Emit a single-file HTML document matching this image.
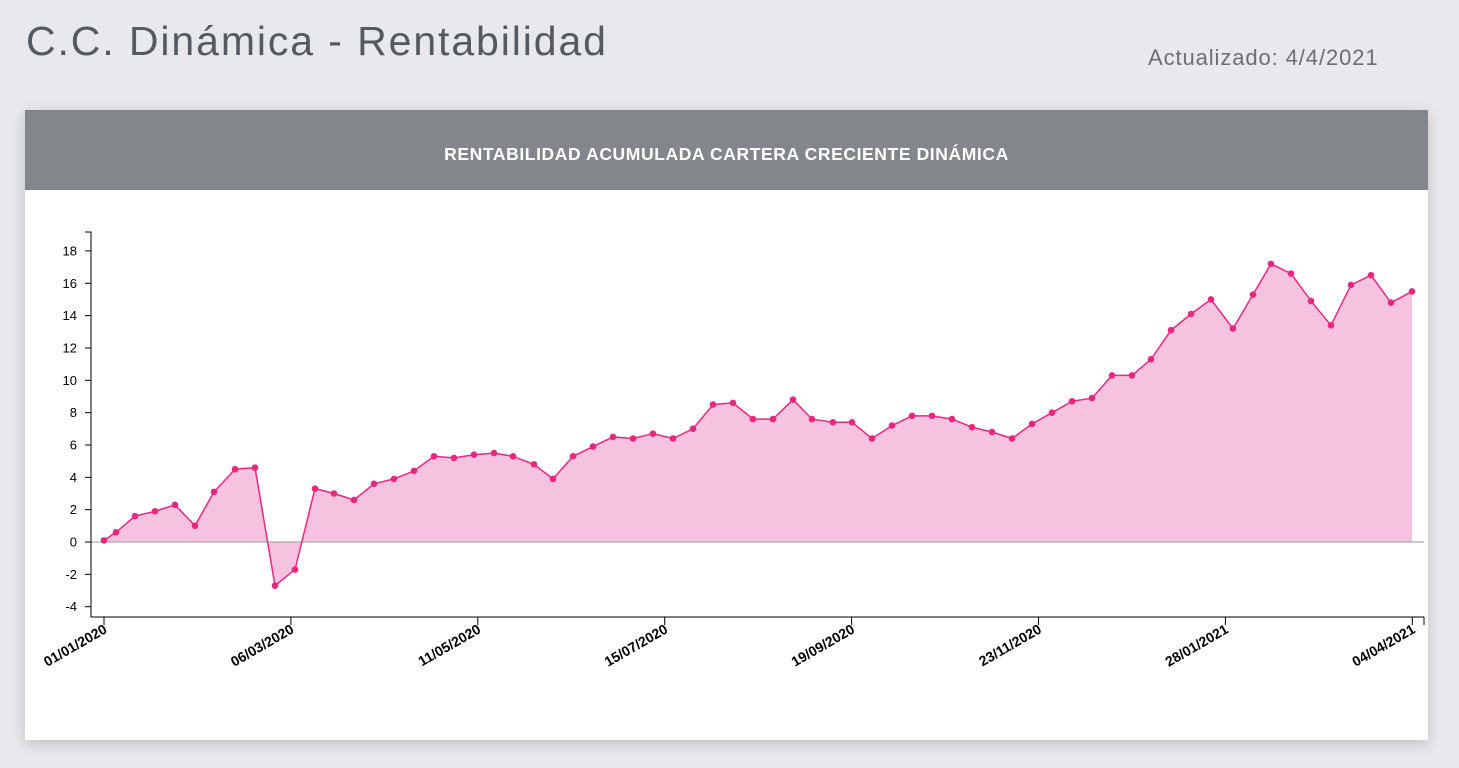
<!DOCTYPE html>
<html><head><meta charset="utf-8"><style>
body{margin:0;width:1459px;height:768px;background:#e8e9ec;font-family:"Liberation Sans",sans-serif;overflow:hidden;position:relative}
.t{position:absolute;left:26px;top:18px;font-size:41px;color:#555a60;letter-spacing:1.9px}
.u{position:absolute;left:1148px;top:45px;font-size:22px;color:#6b6e73;letter-spacing:0.9px}
.card{position:absolute;left:25px;top:110px;width:1403px;height:630px;background:#fff;box-shadow:0 4px 14px rgba(0,0,0,.18)}
.hd{height:80px;background:#83868b;color:#fff;font-weight:bold;font-size:17.5px;letter-spacing:0.6px;text-align:center;line-height:88px}
svg{position:absolute;left:0;top:0}
</style></head><body>
<div class="t">C.C. Dinámica - Rentabilidad</div>
<div class="u">Actualizado: 4/4/2021</div>
<div class="card"><div class="hd">RENTABILIDAD ACUMULADA CARTERA CRECIENTE DINÁMICA</div></div>
<svg id="s" width="1459" height="768" font-family="Liberation Sans, sans-serif" font-size="13"></svg>
<script>
var d=[[104,0.1],[116,0.6],[135,1.6],[155,1.9],[175,2.3],[195,1.0],[214,3.1],[235,4.5],[255,4.6],[275,-2.7],[295,-1.7],[315,3.3],[334,3.0],[354,2.6],[374,3.6],[394,3.9],[414,4.4],[434,5.3],[454,5.2],[474,5.4],[494,5.5],[513,5.3],[534,4.8],[553,3.9],[573,5.3],[593,5.9],[613,6.5],[633,6.4],[653,6.7],[673,6.4],[693,7.0],[713,8.5],[733,8.6],[753,7.6],[773,7.6],[793,8.8],[812,7.6],[833,7.4],[852,7.4],[872,6.4],[892,7.2],[912,7.8],[932,7.8],[952,7.6],[972,7.1],[992,6.8],[1012,6.4],[1032,7.3],[1052,8.0],[1072,8.7],[1092,8.9],[1112,10.3],[1132,10.3],[1151,11.3],[1171,13.1],[1191,14.1],[1211,15.0],[1233,13.2],[1253,15.3],[1271,17.2],[1291,16.6],[1311,14.9],[1331,13.4],[1351,15.9],[1371,16.5],[1391,14.8],[1412,15.5]];
function Y(v){return 542-v*16.17}
var h='',p=d.map(function(a){return a[0]+','+Y(a[1]).toFixed(1)}).join(' ');
h+='<polygon points="104,542 '+p+' 1412,542" fill="#f5c2e0"/>';
h+='<line x1="91" y1="542" x2="1424" y2="542" stroke="#999" stroke-width="1"/>';
h+='<polyline points="'+p+'" fill="none" stroke="#e8287f" stroke-width="1.5"/>';
d.forEach(function(a){h+='<circle cx="'+a[0]+'" cy="'+Y(a[1])+'" r="3.3" fill="#e8287f"/>'});
h+='<path d="M85,232H91V617H1424" fill="none" stroke="#000"/>';
for(var v=-4;v<=18;v+=2){var y=Y(v);h+='<line x1="85" x2="91" y1="'+y+'" y2="'+y+'" stroke="#000"/><text x="77" y="'+(y+4.5)+'" text-anchor="end">'+v+'</text>'}
var L=['01/01/2020','06/03/2020','11/05/2020','15/07/2020','19/09/2020','23/11/2020','28/01/2021','04/04/2021'];
L.forEach(function(s,i){var x=104+i*186.9;h+='<line x1="'+x+'" x2="'+x+'" y1="617" y2="625" stroke="#000"/><text font-size="14" font-weight="bold" transform="translate('+(x+4)+',632) rotate(-30)" text-anchor="end">'+s+'</text>'});
h+='<line x1="1424" x2="1424" y1="617" y2="625" stroke="#000"/>';
document.getElementById('s').innerHTML=h;
</script>
</body></html>
